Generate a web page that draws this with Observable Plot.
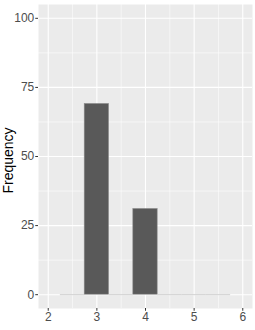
<!DOCTYPE html>
<html>
<head>
<meta charset="utf-8">
<script src="https://cdn.jsdelivr.net/npm/d3@7"></script>
<script src="https://cdn.jsdelivr.net/npm/@observablehq/plot@0.6"></script>
<style>
  html, body { margin: 0; padding: 0; background: #fff; }
  svg { display: block; }
</style>
</head>
<body>
<div id="chart"></div>
<script>
const binCenters = [2.5, 3, 3.5, 4, 4.5, 5, 5.5];
const binWidth = 0.5;
const counts = [0, 69, 0, 31, 0, 0, 0];
const xTicks = [2, 3, 4, 5, 6];
const xMinor = [2.5, 3.5, 4.5, 5.5];
const yTicks = [0, 25, 50, 75, 100];
const yMinor = [12.5, 37.5, 62.5, 87.5];
const yTitle = "Frequency";

const bins = binCenters.map((c, i) => ({x1: c - binWidth / 2, x2: c + binWidth / 2, n: counts[i]}));

const chart = Plot.plot({
  width: 255,
  height: 330,
  marginLeft: 38,
  marginRight: 3,
  marginTop: 4,
  marginBottom: 22,
  style: {fontFamily: "'Liberation Sans', Arial, sans-serif", background: "#fff"},
  x: {domain: [1.8, 6.2]},
  y: {domain: [-5, 105]},
  marks: [
    Plot.frame({fill: "#EBEBEB", stroke: null}),
    Plot.ruleX(xMinor, {stroke: "#fff", strokeWidth: 0.55}),
    Plot.ruleY(yMinor, {stroke: "#fff", strokeWidth: 0.55}),
    Plot.ruleX(xTicks, {stroke: "#fff", strokeWidth: 1.1}),
    Plot.ruleY(yTicks, {stroke: "#fff", strokeWidth: 1.1}),
    Plot.rectY(bins, {filter: d => d.n > 0, x1: "x1", x2: "x2", y1: 0, y2: "n", fill: "#595959", stroke: "#8a8a8a", strokeWidth: 0.6}),
    Plot.ruleY(bins, {filter: d => d.n === 0, x1: "x1", x2: "x2", y: "n", stroke: "#c4c4c4", strokeWidth: 0.8}),
    Plot.axisX({ticks: xTicks, tickFormat: d3.format("d"), tickSize: 2.75, tickPadding: 1.5, fontSize: 12, color: "#4D4D4D", stroke: "#333", label: null}),
    Plot.axisY({ticks: yTicks, tickFormat: d3.format("d"), tickSize: 2.75, tickPadding: 1.5, fontSize: 12, color: "#4D4D4D", stroke: "#333", label: null}),
    Plot.text([yTitle], {frameAnchor: "left", textAnchor: "middle", dx: -30, dy: 4, rotate: -90, fontSize: 14, fill: "#000", text: d => d})
  ]
});
document.getElementById("chart").appendChild(chart);
</script>
</body>
</html>
